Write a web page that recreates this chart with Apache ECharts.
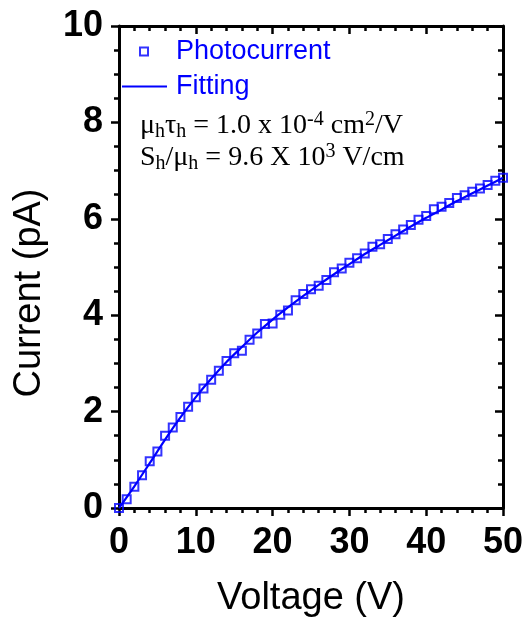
<!DOCTYPE html>
<html>
<head>
<meta charset="utf-8">
<script src="https://cdn.jsdelivr.net/npm/echarts@6/dist/echarts.min.js"></script>
<style>html,body{margin:0;padding:0;background:#fff}#c{width:525px;height:620px}</style>
</head>
<body>
<div id="c"></div>
<script>
// Measured photocurrent (V, pA)
var voltage = [0,1,2,3,4,5,6,7,8,9,10,11,12,13,14,15,16,17,18,19,20,21,22,23,24,25,26,27,28,29,30,31,32,33,34,35,36,37,38,39,40,41,42,43,44,45,46,47,48,49,50];
var photocurrent = [0,0.18,0.44,0.68,0.97,1.17,1.50,1.67,1.89,2.10,2.30,2.48,2.66,2.85,3.05,3.21,3.26,3.49,3.62,3.82,3.83,4.01,4.10,4.31,4.44,4.54,4.61,4.73,4.89,4.97,5.09,5.18,5.28,5.42,5.47,5.58,5.68,5.78,5.87,5.98,6.06,6.20,6.25,6.33,6.43,6.49,6.56,6.63,6.70,6.79,6.85];
// Fitting curve
var fitVoltage = [0,2,4,6,8,10,12,14,16,18,20,22,24,26,28,30,32,34,36,38,40,42,44,46,48,50];
var fitCurrent = [0,0.45,0.93,1.42,1.88,2.30,2.68,3.03,3.34,3.64,3.91,4.16,4.40,4.63,4.85,5.06,5.27,5.46,5.65,5.84,6.02,6.19,6.37,6.53,6.69,6.85];
var xTicks = [0,10,20,30,40,50];
var yTicks = [0,2,4,6,8,10];

var blue = '#0000FF';
var sans = '"Liberation Sans", Arial, sans-serif';
var serif = '"Liberation Serif", "Times New Roman", serif';

var scatterData = voltage.map(function(v,i){return [v, photocurrent[i]];});
var fitData = fitVoltage.map(function(v,i){return [v, fitCurrent[i]];});

var axisLine = {show:true, onZero:false, lineStyle:{color:'#000', width:3}};
function xAx(pos, showLab){
  return {
    type:'value', position:pos, min:xTicks[0], max:xTicks[xTicks.length-1], interval:10,
    axisLine:axisLine,
    axisTick:{show:true, inside:pos==='top', length:8, lineStyle:{color:'#000', width:2.5}},
    minorTick:{show:true, splitNumber:5, length:5, lineStyle:{color:'#000', width:2.5}},
    splitLine:{show:false},
    axisLabel:{show:showLab, margin:17, fontSize:36, fontWeight:'bold', color:'#000', fontFamily:sans, showMinLabel:true, showMaxLabel:true},
    name: showLab ? 'Voltage (V)' : '',
    nameLocation:'middle', nameGap:72,
    nameTextStyle:{fontSize:38, color:'#000', fontFamily:sans}
  };
}
function yAx(pos, showLab){
  return {
    type:'value', position:pos, min:yTicks[0], max:yTicks[yTicks.length-1], interval:2,
    axisLine:axisLine,
    axisTick:{show:true, inside:pos==='right', length:8, lineStyle:{color:'#000', width:2.5}},
    minorTick:{show:true, splitNumber:4, length:5, lineStyle:{color:'#000', width:2.5}},
    splitLine:{show:false},
    axisLabel:{show:showLab, margin:16, fontSize:36, fontWeight:'bold', color:'#000', fontFamily:sans, showMinLabel:true, showMaxLabel:true},
    name: showLab ? 'Current (pA)' : '',
    nameLocation:'middle', nameGap:70,
    nameTextStyle:{fontSize:38, color:'#000', fontFamily:sans, padding:[0,52,0,0]}
  };
}

var richStyles = {
  sub:{fontSize:20, fontFamily:serif, verticalAlign:'bottom', lineHeight:18, fill:'#000'},
  sup:{fontSize:20, fontFamily:serif, verticalAlign:'top', lineHeight:19, fill:'#000'}
};

var chart = echarts.init(document.getElementById('c'), null, {renderer:'canvas'});
chart.setOption({
  animation:false,
  backgroundColor:'#fff',
  grid:{left:119, right:22, top:26, bottom:112, containLabel:false, outerBoundsMode:'none'},
  xAxis:[xAx('bottom', true), xAx('top', false)],
  yAxis:[yAx('left', true), yAx('right', false)],
  legend:[
    {data:['Photocurrent'], orient:'vertical', left:139, top:38, padding:0, itemWidth:8, itemHeight:8,
     icon:'rect', itemStyle:{color:'rgba(0,0,0,0)', borderColor:blue, borderWidth:2},
     textStyle:{fontSize:27, color:blue, fontFamily:sans, padding:[0,0,0,23]}, selectedMode:false},
    {data:['Fitting'], orient:'vertical', left:121, top:73, padding:0, itemWidth:45, itemHeight:14,
     itemStyle:{opacity:0}, lineStyle:{color:blue, width:2},
     textStyle:{fontSize:27, color:blue, fontFamily:sans, padding:[0,0,0,4]}, selectedMode:false}
  ],
  graphic:[
    {type:'text', left:140, top:110, style:{
      text:'μ{sub|h}τ{sub|h} = 1.0 x 10{sup|-4} cm{sup|2}/V',
      font:'28px ' + serif, fill:'#000', lineHeight:32, rich:richStyles
    }},
    {type:'text', left:140, top:142, style:{
      text:'S{sub|h}/μ{sub|h} = 9.6 X 10{sup|3} V/cm',
      font:'28px ' + serif, fill:'#000', lineHeight:32, rich:richStyles
    }}
  ],
  series:[
    {name:'Photocurrent', type:'scatter', data:scatterData, symbol:'rect', symbolSize:8,
     itemStyle:{color:'rgba(255,255,255,0)', borderColor:blue, borderWidth:2}, z:2},
    {name:'Fitting', type:'line', data:fitData, smooth:0.3, symbol:'none', showSymbol:false,
     lineStyle:{color:blue, width:2.2}, itemStyle:{color:blue}, z:3}
  ]
});
</script>
</body>
</html>
